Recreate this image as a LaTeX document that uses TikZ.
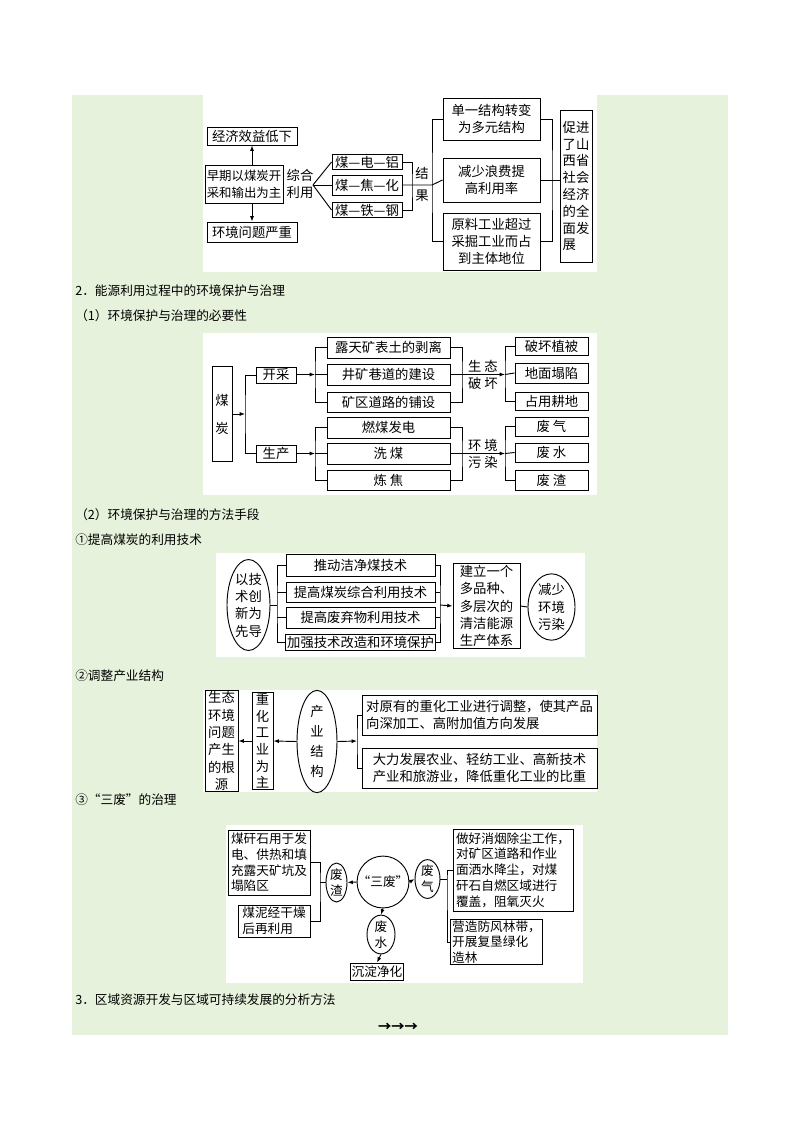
\documentclass[tikz,border=0pt]{standalone}
\usepackage{fontspec}
\setmainfont{Noto Sans CJK SC}
\usetikzlibrary{shapes.geometric, arrows.meta}
\tikzset{>=latex}
\definecolor{pagegreen}{RGB}{230,242,219}
\newcommand\boxat[6]{\node[box, minimum width=#4*0.75pt, minimum height=#5*0.75pt] (#1) at (#2,#3) {#6};}
\newcommand\ovalat[6]{\node[oval, minimum width=#4*0.75pt, minimum height=#5*0.75pt] (#1) at (#2,#3) {#6};}

\begin{document}
\begin{tikzpicture}[x=0.75pt, y=-0.75pt,
  box/.style={draw, line width=0.7pt, inner sep=1pt, font=\fontsize{10}{13}\selectfont, align=center},
  oval/.style={draw, ellipse, line width=0.7pt, inner sep=0pt, font=\fontsize{10}{13}\selectfont, align=center},
  lab/.style={inner sep=0pt, font=\fontsize{10}{13}\selectfont, align=center},
  head/.style={anchor=west, inner sep=0pt, font=\fontsize{9.5}{12}\selectfont},
  conn/.style={line width=0.7pt},
  arr/.style={line width=0.7pt, ->, >={Latex[length=4pt,width=3pt]}}]

\useasboundingbox (0,0) rectangle (800,1132);
\fill[pagegreen] (72,95) rectangle (728,1035);
% white panels
\foreach \a/\b/\c/\d in {203/95/597/272, 203/333/597/495, 216/553/585/657, 203/690/597/792, 226/825/583/983}{
  \fill[white] (\a,\b) rectangle (\c,\d);
}

% headings
\node[head] (h2) at (75,291) {2．能源利用过程中的环境保护与治理};
\node[head] (h21) at (75,316) {（1）环境保护与治理的必要性};
\node[head] (h22) at (75,515) {（2）环境保护与治理的方法手段};
\node[head] (h221) at (75,540) {①提高煤炭的利用技术};
\node[head] (h222) at (75,676) {②调整产业结构};
\node[head] (h223) at (75,800) {③“三废”的治理};
\node[head] (h3) at (75,1000) {3．区域资源开发与区域可持续发展的分析方法};
\node[lab, font=\bfseries] (arrs) at (398,1027) {→→→};

% first picture: Shanxi
\boxat{jjxy}{252}{136}{90}{18}{经济效益低下}
\node[box, minimum width=78*0.75pt, minimum height=38*0.75pt, inner sep=0pt,
  font=\fontsize{9.3}{12.5}\selectfont] (zq) at (244,184) {早期以煤炭开\\采和输出为主};
\boxat{hjwt}{252}{232}{90}{20}{环境问题严重}
\draw[arr] (jjxy.south |- zq.north) -- (jjxy.south);
\draw[arr] (hjwt.north |- zq.south) -- (hjwt.north);
\node[lab] (zhly) at (300,184) {综合\\利用};
\coordinate (fan) at (313,185);
\boxat{dian}{367}{162}{70}{15}{煤—电—铝}
\boxat{jiao}{367}{185}{70}{20}{煤—焦—化}
\boxat{tie}{367}{210}{70}{15}{煤—铁—钢}
\foreach \n in {dian, jiao, tie}{
  \draw[conn] (fan) -- (\n.west);
}
\coordinate (jg) at (412,185);
\coordinate (sp) at (432,185);
\draw[conn] (dian.east) -| (jg) |- (tie.east);
\node[lab] (jie) at (422,173) {结};
\node[lab] (guo) at (422,196) {果};
\boxat{dy}{491.5}{119}{97}{42}{单一结构转变\\为多元结构}
\boxat{js}{491.5}{180}{97}{44}{减少浪费提\\高利用率}
\boxat{yl}{491.5}{241.5}{97}{57}{原料工业超过\\采掘工业而占\\到主体地位}
\draw[conn] (jiao.east) -- (sp) -- (js.west);
\draw[conn] (dy.west) -| (sp) |- (yl.west);
\node[box, minimum width=32*0.75pt, minimum height=152*0.75pt, align=left,
  font=\fontsize{10}{12.6}\selectfont] (cj) at (576,186) {促进\\了山\\西省\\社会\\经济\\的全\\面发\\展};
\coordinate (hb) at (552,180);
\draw[conn] (dy.east) -| (hb) |- (yl.east);
\draw[conn] (js.east) -- (cj.west |- js.east);

% second picture: coal
\node[box, minimum width=20*0.75pt, minimum height=95*0.75pt] (mt) at (222,414) {煤\\[8pt]炭};
\coordinate (b1) at (245,414);
\draw[arr] (mt.east) -- (b1);
\boxat{kc}{276}{375}{40}{16}{开采}
\boxat{sc}{276}{453.5}{40}{17}{生产}
\draw[conn] (kc.west) -| (b1) |- (sc.west);
\boxat{lt}{388.5}{347.5}{123}{21}{露天矿表土的剥离}
\boxat{jk}{388.5}{374.5}{123}{21}{井矿巷道的建设}
\boxat{kq}{388.5}{402}{123}{20}{矿区道路的铺设}
\boxat{rm}{388.5}{427.5}{123}{21}{燃煤发电}
\boxat{xm}{388.5}{453.5}{123}{21}{洗\ 煤}
\boxat{lj}{388.5}{480}{123}{20}{炼\ 焦}
\boxat{ph}{551.5}{346}{73}{18}{破坏植被}
\boxat{dm}{551.5}{373}{73}{20}{地面塌陷}
\boxat{zy}{551.5}{401}{73}{18}{占用耕地}
\boxat{fq}{551.5}{426.5}{73}{19}{废\ 气}
\boxat{fs}{551.5}{452.5}{73}{19}{废\ 水}
\boxat{fz}{551.5}{480}{73}{20}{废\ 渣}
\foreach \s/\t/\u/\v/\w/\x/\y/\z in {kc/lt/jk/kq/ph/dm/zy/374.5, sc/rm/xm/lj/fq/fs/fz/453.5}{
  \coordinate (l\s) at (315,\z);
  \coordinate (r\s) at (462,\z);
  \coordinate (e\s) at (505,\z);
  \draw[arr] (\s.east |- l\s) -- (l\s);
  \draw[conn] (\t.west) -| (l\s) |- (\v.west);
  \draw[conn] (l\s) -- (\u.west);
  \draw[conn] (\t.east) -| (r\s) |- (\v.east);
  \draw[conn] (\u.east) -- (r\s);
  \draw[arr] (r\s) -- (e\s);
  \draw[conn] (\w.west) -| (e\s) |- (\y.west);
  \draw[conn] (e\s) -- (\x.west);
}
\node[lab] (stt) at (483,366) {生\ 态};
\node[lab] (phb) at (483,383) {破\ 坏};
\node[lab] (hjt) at (483,445) {环\ 境};
\node[lab] (wrb) at (483,462) {污\ 染};

% third picture: technology
\ovalat{xd}{248.5}{605}{43}{75}{以技\\术创\\新为\\先导}
\coordinate (c1) at (277,605);
\coordinate (c2) at (440,605);
\boxat{t1}{360.5}{565}{149}{22}{推动洁净煤技术}
\boxat{t2}{360.5}{592}{149}{20}{提高煤炭综合利用技术}
\boxat{t3}{360.5}{617.5}{149}{21}{提高废弃物利用技术}
\boxat{t4}{360.5}{642.5}{149}{15}{加强技术改造和环境保护}
\draw[conn] (xd.east) -- (c1);
\draw[conn] (t1.west) -| (c1) |- (t4.west);
\draw[conn] (t1.east) -| (c2) |- (t4.east);
\foreach \n in {t2, t3}{
  \draw[conn] (\n.west) -- (\n.west -| c1);
  \draw[conn] (\n.east) -- (\n.east -| c2);
}
\boxat{jl}{486.5}{606}{67}{78}{建立一个\\多品种、\\多层次的\\清洁能源\\生产体系}
\draw[arr] (c2) -- (jl.west);
\ovalat{jshj}{551.5}{607}{47}{50}{减少\\环境\\污染}
\draw[conn] (jl.east) -- (jshj.west);

% fourth picture: industry structure
\boxat{gy}{221.5}{741}{33}{92}{生态\\环境\\问题\\产生\\的根\\源}
\node[box, minimum width=21*0.75pt, minimum height=92*0.75pt, font=\fontsize{10}{12.5}\selectfont] (zh) at (262.5,741) {重\\化\\工\\业\\为\\主};
\ovalat{cy}{317}{741.5}{40}{93}{产\\[2pt]业\\[2pt]结\\[2pt]构}
\coordinate (c3) at (357,741);
\draw[arr] (zh.west) -- (gy.east);
\draw[arr] (cy.west) -- (zh.east);
\draw[arr] (cy.east) -- (c3);
\node[box, minimum width=235*0.75pt, minimum height=40*0.75pt, align=left] (k1) at (479.5,715) {对原有的重化工业进行调整，使其产品\\向深加工、高附加值方向发展};
\node[box, minimum width=235*0.75pt, minimum height=40*0.75pt, align=left] (k2) at (479.5,768) {大力发展农业、轻纺工业、高新技术\\产业和旅游业，降低重化工业的比重};
\draw[conn] (k1.west) -| (c3) |- (k2.west);

% fifth picture: three wastes
\tikzset{small/.style={font=\fontsize{9.5}{11.8}\selectfont}}
\node[box, small, align=left, minimum width=82*0.75pt, minimum height=65*0.75pt] (mg) at (269,862.5) {煤矸石用于发\\电、供热和填\\充露天矿坑及\\塌陷区};
\node[box, small, align=left, minimum width=72*0.75pt, minimum height=32*0.75pt] (mn) at (274,921) {煤泥经干燥\\后再利用};
\node[oval, small, minimum width=21*0.75pt, minimum height=39*0.75pt] (fzh) at (336.5,882.5) {废\\渣};
\node[draw, circle, line width=0.7pt, small, minimum size=50*0.75pt, inner sep=0pt] (sf) at (383,882) {“三废”};
\node[oval, small, minimum width=25*0.75pt, minimum height=38*0.75pt] (fqi) at (427.5,879) {废\\气};
\node[oval, small, minimum width=28*0.75pt, minimum height=35*0.75pt] (fsh) at (381,934.5) {废\\水};
\node[box, small, minimum width=50*0.75pt, minimum height=17*0.75pt] (cd) at (377,971.5) {沉淀净化};
\node[box, small, align=left, minimum width=120*0.75pt, minimum height=82*0.75pt] (zf) at (513,870) {做好消烟除尘工作，\\对矿区道路和作业\\面洒水降尘，对煤\\矸石自燃区域进行\\覆盖，阻氧灭火};
\node[box, small, align=left, minimum width=87*0.75pt, minimum height=43*0.75pt] (yz) at (496.5,942) {营造防风林带，\\开展复垦绿化\\造林};
\coordinate (c4) at (320,882.5);
\coordinate (c5) at (447,879);
\draw[conn] (mg.east) -| (c4) |- (mn.east);
\draw[conn] (c4) -- (fzh.west);
\draw[conn] (fqi.east) -- (c5);
\draw[conn] (zf.west) -| (c5) |- (yz.west);
\draw[arr] (sf.west) -- (fzh.east);
\draw[arr] (sf.east) -- (fqi.west);
\draw[arr] (sf.south) -- (fsh.north);
\draw[arr] (fsh.south) -- (cd.north);

\end{tikzpicture}
\end{document}
